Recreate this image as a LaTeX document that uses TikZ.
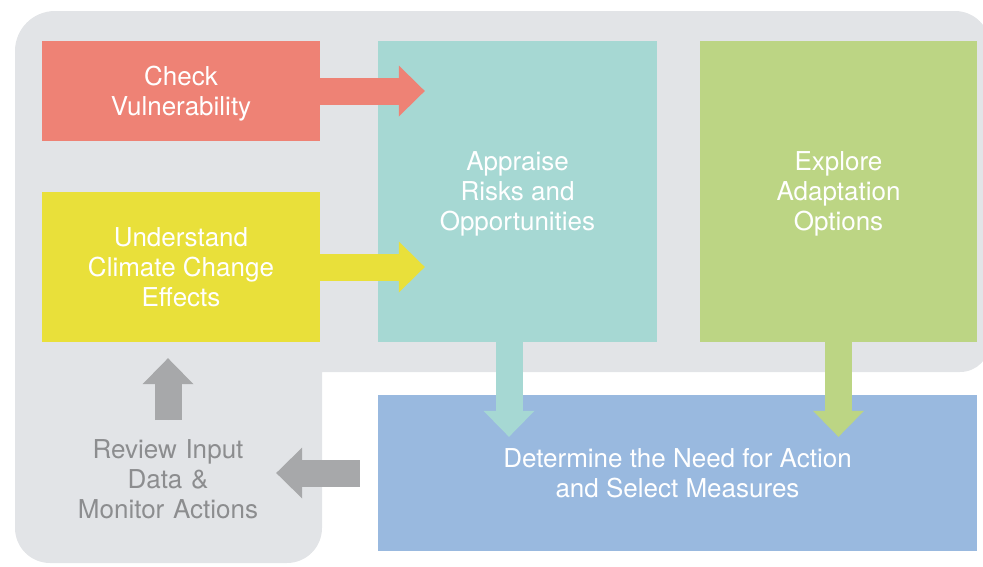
\documentclass[tikz,border=0pt]{standalone}
\usepackage{fontspec}
\setmainfont{TeX Gyre Heros}
\usetikzlibrary{arrows.meta}
\definecolor{bggrey}{HTML}{E2E4E7}
\definecolor{redbox}{HTML}{EE8275}
\definecolor{yellowbox}{HTML}{E9E03A}
\definecolor{tealbox}{HTML}{A6D8D3}
\definecolor{greenbox}{HTML}{BCD584}
\definecolor{bluebox}{HTML}{99B9DF}
\definecolor{greyarrow}{HTML}{A7A8AA}
\definecolor{greytext}{HTML}{8C8D8F}
\tikzset{
  box/.style={inner sep=0pt, text=white, align=center, text depth=0pt,
    font=\fontsize{26}{30}\selectfont},
  plaintext/.style={inner sep=0pt, text=greytext, align=center,
    font=\fontsize{26}{30}\selectfont},
  arr/.style={line width=27pt,
    -{Triangle[width=51pt,length=26pt,line width=0pt]}},
}
\begin{document}
\begin{tikzpicture}[x=1pt,y=1pt]
\useasboundingbox (0,0) rectangle (983,-566);
\clip (0,0) rectangle (983,-566);
% background L-shape
\fill[bggrey] (15,-51) arc(180:90:40) -- (955,-11) arc(90:0:35)
  -- (990,-342) arc(0:-90:30) -- (322,-372) -- (322,-528) arc(0:-90:35)
  -- (50,-563) arc(-90:-180:35) -- cycle;
% boxes
\node[box, fill=redbox, minimum width=278pt, minimum height=100pt] (check) at (181,-91) {Check\\Vulnerability};
\node[box, fill=yellowbox, minimum width=278pt, minimum height=150pt] (understand) at (181,-267) {Understand\\Climate Change\\Effects};
\node[box, fill=tealbox, minimum width=279pt, minimum height=301pt] (appraise) at (517.5,-191.5) {Appraise\\Risks and\\Opportunities};
\node[box, fill=greenbox, minimum width=277pt, minimum height=301pt] (explore) at (838.5,-191.5) {Explore\\Adaptation\\Options};
\node[box, fill=bluebox, minimum width=599pt, minimum height=156pt] (determine) at (677.5,-473) {Determine the Need for Action\\and Select Measures};
\node[plaintext, text width=200pt] (review) at (168,-479) {Review Input\\Data \&\\Monitor Actions};
% arrows
\draw[arr, draw=redbox, fill=redbox, shorten >=-47pt] (check.east) -- (check.east -| appraise.west);
\draw[arr, draw=yellowbox, fill=yellowbox, shorten >=-47pt] (understand.east) -- (understand.east -| appraise.west);
\draw[arr, draw=tealbox, fill=tealbox, shorten >=-42pt] ([xshift=-8.5pt]appraise.south) -- ([xshift=-8.5pt]appraise.south |- determine.north);
\draw[arr, draw=greenbox, fill=greenbox, shorten >=-42pt] (explore.south) -- (explore.south |- determine.north);
\draw[arr, draw=greyarrow, fill=greyarrow, shorten <=18pt, shorten >=8pt] (determine.west) -- (determine.west -| review.east);
\coordinate (upstart) at (168,-420);
\draw[arr, draw=greyarrow, fill=greyarrow, shorten >=16pt] (upstart) -- (upstart |- understand.south);
\end{tikzpicture}
\end{document}
